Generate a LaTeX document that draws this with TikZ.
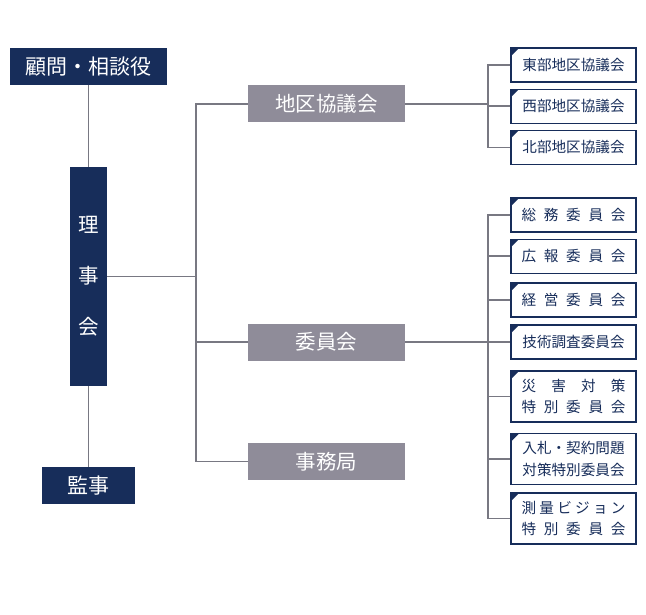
\documentclass[tikz,border=0pt]{standalone}
\usepackage{fontspec}
\newfontfamily\jp{Noto Sans CJK JP}
\definecolor{boardnavy}{RGB}{23, 45, 90}
\definecolor{unitgray}{RGB}{143, 140, 153}
\definecolor{linegray}{RGB}{120, 120, 130}
\usetikzlibrary{
  positioning,
}
\newcommand\spread[1]{\makebox[104pt][s]{#1}}
\tikzset{
  headbox/.style={rectangle,fill=boardnavy,text=white,inner sep=0pt,
    font=\jp\fontsize{21}{21}\selectfont},
  unitbox/.style={rectangle,fill=unitgray,text=white,inner sep=0pt,
    minimum width=157,minimum height=37,font=\jp\fontsize{20.5}{20.5}\selectfont},
  subbox/.style={rectangle,draw=boardnavy,fill=white,text=boardnavy,line width=1.1pt,
    minimum width=125,minimum height=34,inner sep=0pt,align=center,
    font=\jp\fontsize{14.6}{21.5}\selectfont,
    path picture={\fill[boardnavy] (path picture bounding box.north west) -- ++(8pt,0) -- ++(-8pt,-8pt) -- cycle;}},
  link/.style={draw=linegray,line width=1.3pt},
}
\begin{document}
\begin{tikzpicture}[x=1pt,y=1pt,node distance=6 and 0]
      \useasboundingbox (0,0) rectangle (646,-615);
      \coordinate (trunk) at (196,0);
      \coordinate (fork)  at (488,0);

      \node[headbox,minimum width=157,minimum height=37] (advisor) at (88.5,-66.5) {顧問・相談役};
      \node[headbox,minimum width=37,minimum height=219,align=center,font=\jp\fontsize{20.5}{51}\selectfont] (board) at (88.5,-276.5) {理\\事\\会};
      \node[headbox,minimum width=93,minimum height=37] (auditor) at (88.5,-485.5) {監事};

      \node[unitbox] (area)   at (326.5,-104) {地区協議会};
      \node[unitbox] (comm)   at (326.5,-342) {委員会};
      \node[unitbox] (office) at (326.5,-461.5) {事務局};

      \node[subbox] (east)  at (573.5,-65) {東部地区協議会};
      \node[subbox] (west)  [below=of east] {西部地区協議会};
      \node[subbox] (north) [below=of west] {北部地区協議会};

      \node[subbox] (general)  at (573.5,-215) {\spread{総\hfill 務\hfill 委\hfill 員\hfill 会}};
      \node[subbox] (pr)       [below=of general] {\spread{広\hfill 報\hfill 委\hfill 員\hfill 会}};
      \node[subbox] (manage)   at (573.5,-300) {\spread{経\hfill 営\hfill 委\hfill 員\hfill 会}};
      \node[subbox] (tech)     at (573.5,-342) {技術調査委員会};
      \node[subbox,minimum height=51] (disaster) at (573.5,-396.5) {\spread{災\hfill 害\hfill 対\hfill 策}\\\spread{特\hfill 別\hfill 委\hfill 員\hfill 会}};
      \node[subbox,minimum height=51] (bidding)  at (573.5,-459) {入札・契約問題\\対策特別委員会};
      \node[subbox,minimum height=51] (survey)   at (573.5,-518.5) {\spread{測\hfill 量\hfill ビ\hfill ジ\hfill ョ\hfill ン}\\\spread{特\hfill 別\hfill 委\hfill 員\hfill 会}};

      \draw[link] (advisor) -- (board);
      \draw[link] (board) -- (auditor);
      \draw[link] (board.east) -- (board.east -| trunk);
      \draw[link] (area.west) -- (area.west -| trunk) |- (office.west);
      \draw[link] (comm.west) -- (comm.west -| trunk);

      \draw[link] (area.east) -- (area.east -| fork);
      \draw[link] (east.west) -- (east.west -| fork) |- (north.west);
      \draw[link] (west.west) -- (west.west -| fork);

      \draw[link] (comm.east) -- (tech.west);
      \draw[link] (general.west) -- (general.west -| fork) |- (survey.west);
      \foreach \unit in {pr,manage,disaster,bidding}
        \draw[link] (\unit.west) -- (\unit.west -| fork);
    \end{tikzpicture}
\end{document}
